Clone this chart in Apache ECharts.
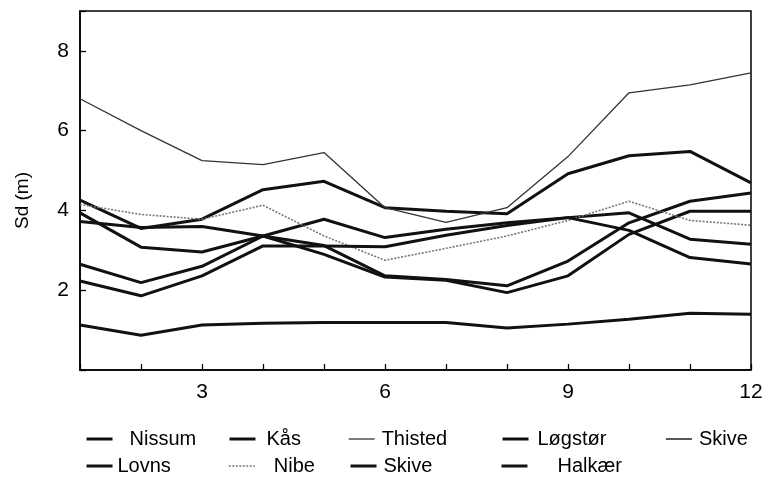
<!DOCTYPE html>
<html>
<head>
<meta charset="utf-8">
<script src="https://cdn.jsdelivr.net/npm/echarts@6/dist/echarts.min.js"></script>
<style>
  html, body { margin: 0; padding: 0; background: #fff; }
  #chart { width: 769px; height: 485px; }
</style>
</head>
<body>
<div id="chart"></div>
<script>
// Month index along the x axis
const months = [1, 2, 3, 4, 5, 6, 7, 8, 9, 10, 11, 12];
const xTickLabels = [3, 6, 9, 12];
const yTickLabels = [2, 4, 6, 8];

// Secchi depth (m) per station
const nissum  = [4.26, 3.55, 3.78, 4.52, 4.73, 4.07, 3.98, 3.92, 4.92, 5.37, 5.48, 4.69];
const kaas    = [3.94, 3.08, 2.96, 3.36, 3.78, 3.32, 3.53, 3.69, 3.82, 3.94, 3.28, 3.15];
const thisted = [6.80, 6.00, 5.25, 5.15, 5.45, 4.07, 3.70, 4.07, 5.35, 6.95, 7.15, 7.45];
const logstor = [3.72, 3.57, 3.60, 3.36, 3.12, 2.36, 2.27, 2.11, 2.73, 3.69, 4.23, 4.44];
const skiveA  = [];
const lovns   = [2.65, 2.19, 2.60, 3.36, 2.90, 2.33, 2.25, 1.94, 2.36, 3.40, 3.98, 3.98];
const nibe    = [4.15, 3.90, 3.78, 4.13, 3.36, 2.75, 3.05, 3.36, 3.75, 4.23, 3.75, 3.63];
const skiveB  = [2.23, 1.86, 2.36, 3.11, 3.11, 3.09, 3.38, 3.62, 3.82, 3.50, 2.82, 2.66];
const halkaer = [1.13, 0.87, 1.13, 1.17, 1.19, 1.19, 1.19, 1.05, 1.15, 1.27, 1.42, 1.40];

const FONT = '"Liberation Sans", Arial, sans-serif';

function pairs(values) {
  return values.map((v, i) => [months[i], v]);
}

const thick = { width: 3, color: '#111' };

const stations = [
  { name: 'Nissum',  data: nissum,  line: thick },
  { name: 'Kås',     data: kaas,    line: thick },
  { name: 'Thisted', data: thisted, line: { width: 1.3, color: '#333' } },
  { name: 'Løgstør', data: logstor, line: thick },
  { name: 'Skive',   data: skiveA,  line: { width: 1.8, color: '#444' } },
  { name: 'Lovns',   data: lovns,   line: thick },
  { name: 'Nibe',    data: nibe,    line: { width: 1.6, color: '#777', type: [2, 1.5] } },
  { name: 'Skive ',  data: skiveB,  line: thick },
  { name: 'Halkær',  data: halkaer, line: thick }
];

const series = stations.map(s => ({
  name: s.name,
  type: 'line',
  data: pairs(s.data),
  showSymbol: false,
  symbol: 'none',
  lineStyle: s.line,
  itemStyle: { color: s.line.color },
  animation: false
}));

// One legend block per entry so each sits where it belongs in the two rows
const legendSpots = [
  { name: 'Nissum',  left: 85,  top: 429, pad: 12 },
  { name: 'Kås',     left: 228, top: 429, pad: 6 },
  { name: 'Thisted', left: 348, top: 429, pad: 2 },
  { name: 'Løgstør', left: 501, top: 429, pad: 4 },
  { name: 'Skive',   left: 665, top: 429, pad: 2 },
  { name: 'Lovns',   left: 85,  top: 456, pad: 0 },
  { name: 'Nibe',    left: 228, top: 456, pad: 14 },
  { name: 'Skive ',  left: 349, top: 456, pad: 2 },
  { name: 'Halkær',  left: 500, top: 456, pad: 25 }
];

const legends = legendSpots.map(l => {
  const st = stations.find(s => s.name === l.name);
  return {
    data: [l.name],
    left: l.left,
    top: l.top,
    padding: 0,
    orient: 'horizontal',
    itemWidth: 26,
    itemHeight: 12,
    selectedMode: false,
    itemStyle: { opacity: 0 },
    lineStyle: { width: st.line.width },
    textStyle: {
      fontFamily: FONT,
      fontSize: 20,
      color: '#000',
      padding: [0, 0, 0, l.pad]
    }
  };
});

const chart = echarts.init(document.getElementById('chart'), null, { renderer: 'canvas' });
chart.setOption({
  animation: false,
  backgroundColor: '#fff',
  grid: {
    left: 80, right: 18, top: 11, bottom: 115,
    show: true, borderColor: '#000', borderWidth: 1.5, backgroundColor: 'transparent'
  },
  legend: legends,
  xAxis: {
    type: 'value',
    min: 1, max: 12, interval: 1,
    axisLine: { lineStyle: { color: '#000', width: 1.5 } },
    axisTick: { inside: true, length: 6, lineStyle: { color: '#000', width: 1.3 } },
    splitLine: { show: false },
    axisLabel: {
      margin: 12,
      fontFamily: FONT, fontSize: 21, color: '#000',
      formatter: v => (xTickLabels.includes(v) ? String(v) : '')
    }
  },
  yAxis: {
    type: 'value',
    min: 0, max: 9, interval: 2,
    name: 'Sd (m)',
    nameLocation: 'middle',
    nameGap: 48,
    nameTextStyle: { fontFamily: FONT, fontSize: 19, color: '#000', padding: [0, 20, 0, 0] },
    axisLine: { lineStyle: { color: '#000', width: 1.5 } },
    axisTick: { inside: true, length: 6, lineStyle: { color: '#000', width: 1.3 } },
    splitLine: { show: false },
    axisLabel: {
      margin: 11,
      fontFamily: FONT, fontSize: 21, color: '#000',
      formatter: v => (yTickLabels.includes(v) ? String(v) : '')
    }
  },
  series: series
});
</script>
</body>
</html>
